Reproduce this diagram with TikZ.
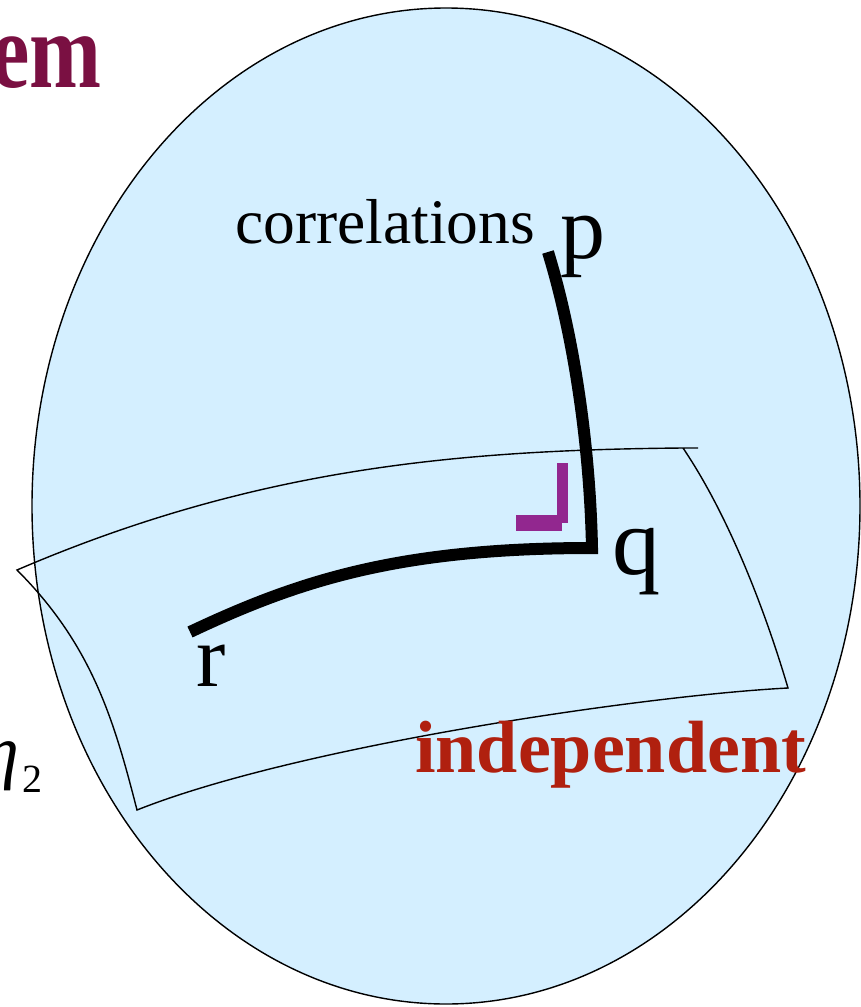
\documentclass[tikz,border=0pt]{standalone}
\usepackage{fontspec}
\setmainfont{Liberation Serif}
\definecolor{ballblue}{RGB}{212,239,255}
\definecolor{titlemaroon}{RGB}{122,16,66}
\definecolor{indred}{RGB}{176,32,15}
\definecolor{markpurple}{RGB}{146,39,143}
\tikzset{
  lbl/.style={inner sep=0pt, anchor=base west, text=black},
  thin line/.style={line width=1.4pt, black},
  thick curve/.style={line width=12pt, black, line join=miter, line cap=butt},
}
\begin{document}
\begin{tikzpicture}[x=1pt,y=1pt]
\useasboundingbox (0,0) rectangle (860,-1007);
% ball
\fill[ballblue] (446,-506) ellipse [x radius=414, y radius=498];
\draw[thin line] (446,-506) ellipse [x radius=414, y radius=498];
% title fragment
\node[lbl, anchor=base east, text=titlemaroon] (title) at (102,-87)
  {\scalebox{0.8}[1]{\fontsize{108}{110}\selectfont\bfseries em}};
% eta_2 fragment
\node[lbl, anchor=base east] (eta) at (43,-775)
  {{\fontsize{72}{72}\selectfont\itshape η}\hspace{4pt}\raisebox{-17pt}{\fontsize{40}{40}\selectfont 2}};
% surface
\coordinate (A) at (17,-570);
\coordinate (B) at (683,-448);
\coordinate (Bx) at (698,-448);
\coordinate (C) at (788,-688);
\coordinate (D) at (137,-810);
\draw[thin line, line join=miter]
  (Bx) -- (B) .. controls (450,-450) and (250,-470) .. (A)
  .. controls (92,-645) and (114,-720) .. (D)
  .. controls (300,-745) and (650,-695) .. (C)
  .. controls (762,-600) and (725,-510) .. (B);
% geodesic curves
\coordinate (P) at (548,-252);
\coordinate (Q) at (592,-548);
\coordinate (R) at (190,-632);
\draw[thick curve] (R) .. controls (300,-580) and (400,-548) .. (Q)
  .. controls (590,-450) and (575,-340) .. (P);
% right angle mark
\fill[markpurple] (557,-463) rectangle (568,-523);
\fill[markpurple] (516,-515) rectangle (562,-531);
% labels
\node[lbl] (corr) at (235,-243) {\fontsize{63.5}{70}\selectfont correlations};
\node[lbl] (plabel) at (560,-258) {\fontsize{90}{95}\selectfont p};
\node[lbl] (qlabel) at (612,-574) {\fontsize{96}{100}\selectfont q};
\node[lbl] (rlabel) at (196,-686) {\fontsize{88}{95}\selectfont r};
\node[lbl, text=indred] (indep) at (415,-772)
  {\fontsize{74}{78}\selectfont\bfseries independent};
\end{tikzpicture}
\end{document}
